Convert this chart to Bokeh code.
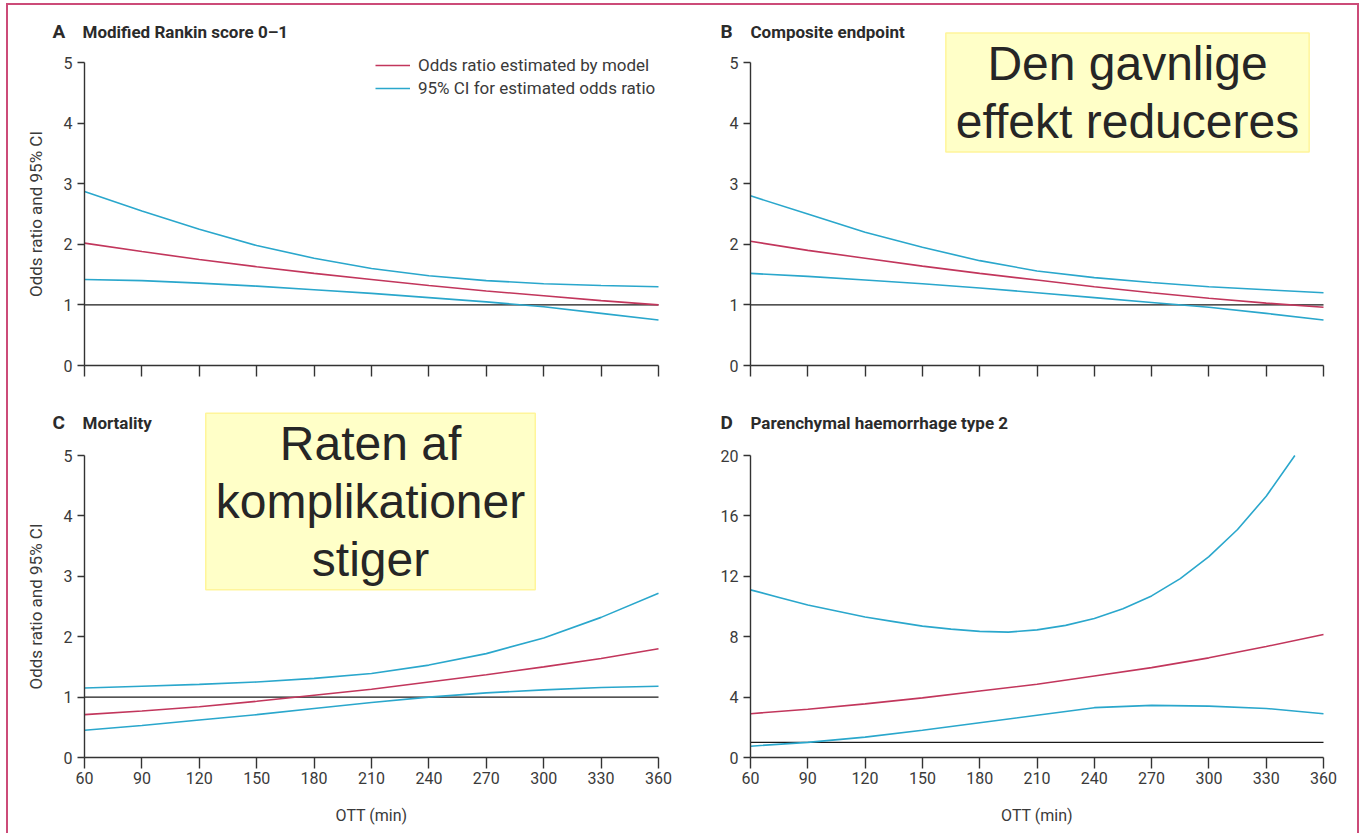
from bokeh.plotting import figure
from bokeh.models import (Range1d, FixedTicker, Label, Legend, LegendItem,
                          CustomLabelingPolicy)
from bokeh.layouts import column, row
from bokeh.embed import file_html
from bokeh.resources import INLINE

# ---------------- data ----------------
ott = [60, 90, 120, 150, 180, 210, 240, 270, 300, 330, 360]
x_ticks = [60, 90, 120, 150, 180, 210, 240, 270, 300, 330, 360]
ref_x = [60, 360]
ref_y = [1, 1]

# A  Modified Rankin score 0-1
a_or = [2.02, 1.88, 1.75, 1.63, 1.52, 1.42, 1.32, 1.23, 1.15, 1.07, 1.00]
a_hi = [2.87, 2.55, 2.25, 1.98, 1.77, 1.60, 1.48, 1.40, 1.35, 1.32, 1.30]
a_lo = [1.42, 1.40, 1.36, 1.31, 1.25, 1.19, 1.12, 1.05, 0.97, 0.86, 0.75]

# B  Composite endpoint
b_or = [2.05, 1.90, 1.77, 1.64, 1.52, 1.41, 1.30, 1.20, 1.11, 1.03, 0.96]
b_hi = [2.80, 2.50, 2.20, 1.95, 1.73, 1.56, 1.45, 1.37, 1.30, 1.25, 1.20]
b_lo = [1.52, 1.47, 1.41, 1.35, 1.28, 1.20, 1.12, 1.04, 0.96, 0.86, 0.75]

# C  Mortality
c_or = [0.71, 0.77, 0.84, 0.93, 1.03, 1.13, 1.25, 1.37, 1.50, 1.64, 1.80]
c_hi = [1.15, 1.18, 1.21, 1.25, 1.31, 1.39, 1.53, 1.72, 1.98, 2.32, 2.72]
c_lo = [0.45, 0.53, 0.62, 0.71, 0.81, 0.91, 1.00, 1.07, 1.12, 1.16, 1.18]

# D  Parenchymal haemorrhage type 2
d_or = [2.9, 3.2, 3.55, 3.95, 4.4, 4.85, 5.4, 5.95, 6.6, 7.35, 8.15]
d_lo = [0.75, 1.0, 1.35, 1.8, 2.3, 2.8, 3.3, 3.45, 3.4, 3.25, 2.9]
d_hi_x = [60, 75, 90, 105, 120, 135, 150, 165, 180, 195, 210, 225, 240, 255,
          270, 285, 300, 315, 330, 345]
d_hi = [11.1, 10.6, 10.1, 9.7, 9.3, 9.0, 8.7, 8.5, 8.35, 8.3, 8.45, 8.75,
        9.2, 9.85, 10.7, 11.85, 13.3, 15.1, 17.3, 20.0]

y_ticks_or = [0, 1, 2, 3, 4, 5]
y_ticks_d = [0, 4, 8, 12, 16, 20]

titles = [("A", "Modified Rankin score 0\u20131"),
          ("B", "Composite endpoint"),
          ("C", "Mortality"),
          ("D", "Parenchymal haemorrhage type 2")]
legend_labels = ["Odds ratio estimated by model", "95% CI for estimated odds ratio"]
box_b_text = "Den gavnlige\neffekt reduceres"
box_c_text = "Raten af\nkomplikationer\nstiger"
x_label = "OTT (min)"
y_label = "Odds ratio and 95% CI"

# ---------------- styles ----------------
RED = "#c2365c"
BLUE = "#2aa7cc"
AX = "#333333"
TXT = "#3a3a3a"
FONT = "Roboto"
BOXFONT = "Liberation Sans"


def make_fig(w, h, left, right, top, bottom, ext_left, ext_right, ext_top, ext_bottom,
             data_w, data_h, ymax, yticks):
    # frame extends beyond the data area so titles, boxes and tick labels are not clipped
    x0 = 60 - ext_left * 300.0 / data_w
    x1 = 360 + ext_right * 300.0 / data_w
    y0 = -ext_bottom * ymax / data_h
    y1 = ymax * (data_h + ext_top) / data_h
    p = figure(width=w, height=h, output_backend="svg", toolbar_location=None,
               x_range=Range1d(x0, x1), y_range=Range1d(y0, y1),
               min_border_left=left, min_border_right=right,
               min_border_top=top, min_border_bottom=bottom)
    p.outline_line_color = None
    p.grid.visible = False
    p.background_fill_color = "white"
    p.border_fill_color = "white"
    p.xaxis.ticker = FixedTicker(ticks=x_ticks)
    p.yaxis.ticker = FixedTicker(ticks=yticks)
    p.xaxis.bounds = (60, 360)
    p.yaxis.bounds = (0, ymax)
    p.yaxis.fixed_location = 60
    p.xaxis.fixed_location = 0
    for ax in (p.xaxis, p.yaxis):
        ax.axis_line_color = AX
        ax.axis_line_width = 1.4
        ax.major_tick_line_color = AX
        ax.major_tick_line_width = 1.4
        ax.major_tick_in = 0
        ax.minor_tick_line_color = None
        ax.major_label_text_font = FONT
        ax.major_label_text_font_size = "16px"
        ax.major_label_text_color = TXT
    p.xaxis.major_tick_out = 11
    p.yaxis.major_tick_out = 7
    p.xaxis.major_label_standoff = 3
    p.yaxis.major_label_standoff = 5
    p.line(ref_x, ref_y, line_color="#1a1a1a", line_width=1.3)
    return p


def add_title(p, letter, text, yoff, xoff, ytop):
    p.add_layout(Label(x=60, y=ytop, x_offset=xoff, y_offset=yoff, text=letter,
                       text_font=FONT, text_font_size="19px", text_font_style="bold",
                       text_color="#2b2b2b", text_baseline="middle", text_align="left"))
    p.add_layout(Label(x=60, y=ytop, x_offset=xoff + 30, y_offset=yoff, text=text,
                       text_font=FONT, text_font_size="17px", text_font_style="bold",
                       text_color="#2b2b2b", text_baseline="middle", text_align="left"))


def add_ylabel(p):
    p.add_layout(Label(x=60, y=2.5, x_offset=-49, y_offset=0, text=y_label, angle=90,
                       angle_units="deg", text_font=FONT, text_font_size="17px",
                       text_color=TXT, text_align="center", text_baseline="middle"))


def add_xlabel(p):
    p.add_layout(Label(x=210, y=0, x_offset=0, y_offset=-58, text=x_label,
                       text_font=FONT, text_font_size="16px", text_color=TXT,
                       text_align="center", text_baseline="middle"))


W_L, W_R = 672, 677
H_T, H_B = 395, 433

pA = make_fig(W_L, H_T, 12, 6, 17, 21, 64, 16, 40, 14, 574, 303, 5, y_ticks_or)
pB = make_fig(W_R, H_T, 32, 16, 17, 21, 38, 18, 40, 14, 573, 303, 5, y_ticks_or)
pC = make_fig(W_L, H_B, 12, 6, 4, 5, 64, 16, 51, 71, 574, 302, 5, y_ticks_or)
pD = make_fig(W_R, H_B, 32, 16, 4, 5, 38, 18, 51, 71, 573, 302, 20, y_ticks_d)

for p in (pA, pB):
    p.xaxis.major_label_policy = CustomLabelingPolicy(code="return new Set()")

rA = pA.line(ott, a_or, line_color=RED, line_width=1.6)
rA2 = pA.line(ott, a_hi, line_color=BLUE, line_width=1.6)
pA.line(ott, a_lo, line_color=BLUE, line_width=1.6)

pB.line(ott, b_or, line_color=RED, line_width=1.6)
pB.line(ott, b_hi, line_color=BLUE, line_width=1.6)
pB.line(ott, b_lo, line_color=BLUE, line_width=1.6)

pC.line(ott, c_or, line_color=RED, line_width=1.6)
pC.line(ott, c_hi, line_color=BLUE, line_width=1.6)
pC.line(ott, c_lo, line_color=BLUE, line_width=1.6)

pD.line(ott, d_or, line_color=RED, line_width=1.6)
pD.line(d_hi_x, d_hi, line_color=BLUE, line_width=1.6)
pD.line(ott, d_lo, line_color=BLUE, line_width=1.6)

add_title(pA, titles[0][0], titles[0][1], 31, -32, 5)
add_title(pB, titles[1][0], titles[1][1], 31, -30, 5)
add_title(pC, titles[2][0], titles[2][1], 33, -32, 5)
add_title(pD, titles[3][0], titles[3][1], 33, -30, 20)

add_ylabel(pA)
add_ylabel(pC)
add_xlabel(pC)
add_xlabel(pD)

legend = Legend(items=[LegendItem(label=legend_labels[0], renderers=[rA]),
                       LegendItem(label=legend_labels[1], renderers=[rA2])],
                location=(355, 281), orientation="vertical",
                background_fill_alpha=0, border_line_color=None,
                padding=0, margin=0, spacing=3, glyph_width=35, glyph_height=20,
                label_height=20, label_standoff=8,
                label_text_font=FONT, label_text_font_size="17px", label_text_color=TXT)
pA.add_layout(legend)

box_style = dict(text_font=BOXFONT, text_font_size="48px", text_color="#262626",
                 text_align="center", text_baseline="middle", text_line_height=1.09,
                 background_fill_color="#ffffc8", border_line_color="#fff59a",
                 border_line_width=1.5,
                 padding=dict(left=10, right=10, top=4, bottom=4))
pB.add_layout(Label(x=360, y=5, x_offset=-196, y_offset=-30, text=box_b_text, **box_style))
pC.add_layout(Label(x=60, y=5, x_offset=286, y_offset=-46, text=box_c_text, **box_style))

layout = column(row(pA, pB), row(pC, pD),
                styles={"margin-left": "6px", "margin-top": "3px",
                        "border-top": "2px solid #cc4b78",
                        "border-left": "2px solid #cc4b78",
                        "border-right": "2px solid #cc4b78"})

open("out.html", "w").write(file_html(layout, INLINE))
